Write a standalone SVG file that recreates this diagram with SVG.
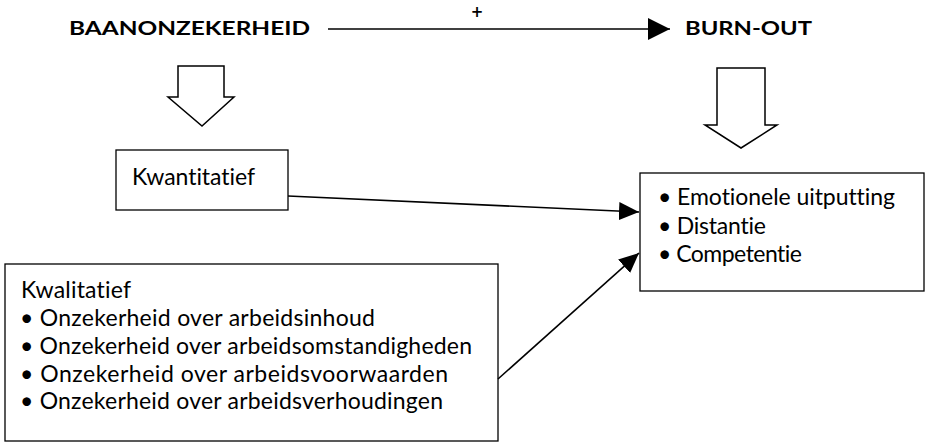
<svg xmlns="http://www.w3.org/2000/svg" width="926" height="445" viewBox="0 0 926 445">
<style>
text{font-family:Lato,"Open Sans","Liberation Sans",sans-serif;fill:#000;font-variant-ligatures:none;font-feature-settings:"liga" 0}
.t{font-size:18.5px;font-weight:bold}
.b{font-size:23px}
.box{fill:#fff;stroke:#000;stroke-width:1.3}
.blk{fill:#fff;stroke:#000;stroke-width:1.5;stroke-linejoin:miter}
.ln{stroke:#000;stroke-width:1.6;fill:none}
</style>
<defs>
<marker id="ah" markerUnits="userSpaceOnUse" markerWidth="20" markerHeight="20" refX="20" refY="10" orient="auto"><path d="M0,1 L20,10 L0,19 z" fill="#000"/></marker>
<marker id="ahm" markerUnits="userSpaceOnUse" markerWidth="22" markerHeight="22" refX="22" refY="11" orient="auto"><path d="M0,0 L22,11 L0,22 z" fill="#000"/></marker>
</defs>
<rect width="926" height="445" fill="#fff"/>
<g id="baanonzekerheid"><text class="t" x="69" y="35" textLength="241" lengthAdjust="spacingAndGlyphs">BAANONZEKERHEID</text></g>
<g id="burnout"><text class="t" x="685" y="35" textLength="127" lengthAdjust="spacingAndGlyphs">BURN-OUT</text></g>
<g id="arrow-left"><path class="blk" d="M178,66 H224 V97 H234 L202,126 L168,97 H178 Z"/></g>
<g id="arrow-right"><path class="blk" d="M717,68 H765 V125 H777 L741,148 L705,125 H717 Z"/></g>
<g id="kwantitatief"><rect class="box" x="116" y="150" width="172" height="60"/><text class="b" x="132" y="185" textLength="123">Kwantitatief</text></g>
<g id="kwalitatief"><rect class="box" x="5" y="264" width="493" height="177"/>
<text class="b" x="21" y="298" textLength="110">Kwalitatief</text>
<text class="b" x="20" y="326" textLength="355">• Onzekerheid over arbeidsinhoud</text>
<text class="b" x="20" y="354" textLength="452">• Onzekerheid over arbeidsomstandigheden</text>
<text class="b" x="20" y="382" textLength="428">• Onzekerheid over arbeidsvoorwaarden</text>
<text class="b" x="20" y="409" textLength="423">• Onzekerheid over arbeidsverhoudingen</text>
</g>
<g id="burnout-dims"><rect class="box" x="640" y="173" width="284" height="118"/>
<text class="b" x="658" y="205" textLength="237">• Emotionele uitputting</text>
<text class="b" x="658" y="234" textLength="108">• Distantie</text>
<text class="b" x="658" y="262" textLength="144">• Competentie</text>
</g>
<g id="connectors">
<line class="ln" x1="328" y1="29" x2="670" y2="29" marker-end="url(#ahm)"/>
<text x="477" y="17" text-anchor="middle" style="font-family:'DejaVu Sans',sans-serif;font-size:15px;font-weight:bold">+</text>
<line class="ln" x1="288" y1="196" x2="639" y2="212" marker-end="url(#ah)"/>
<line class="ln" x1="498" y1="379" x2="639" y2="253" marker-end="url(#ah)"/>
</g>
</svg>
